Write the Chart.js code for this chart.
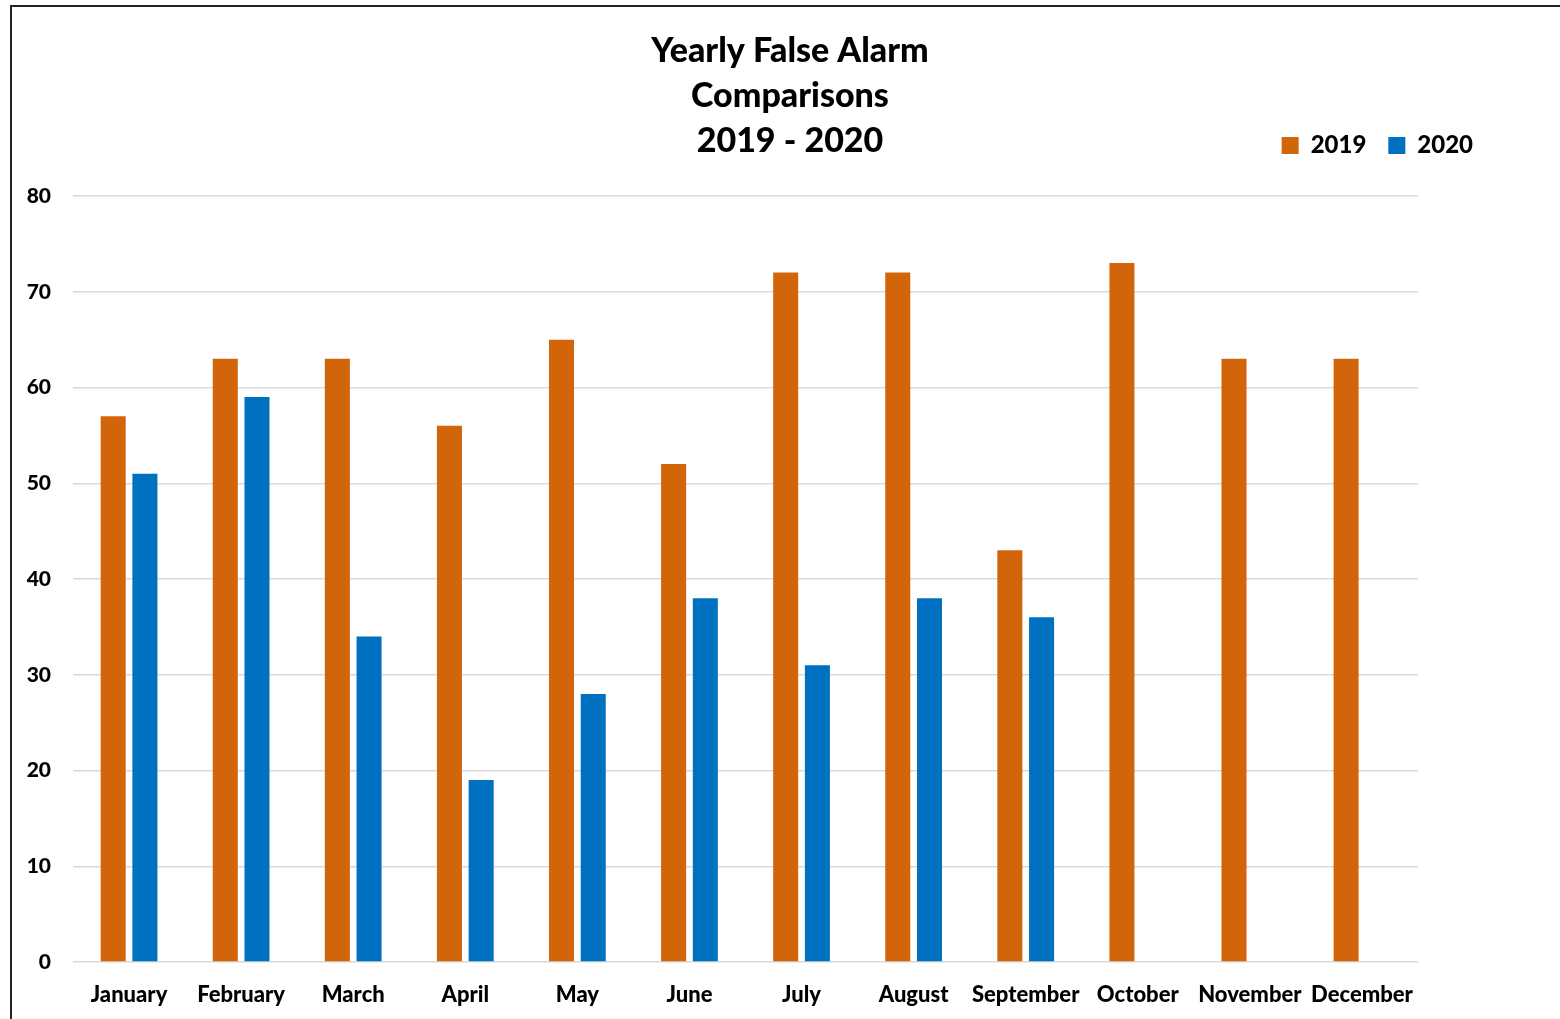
<!DOCTYPE html>
<html>
<head>
<meta charset="utf-8">
<script src="https://cdn.jsdelivr.net/npm/chart.js@4/dist/chart.umd.min.js"></script>
<style>
  html, body { margin: 0; padding: 0; background: #fff; overflow: hidden; width: 1560px; height: 1019px; }
  #frame { position: absolute; left: 10px; top: 5px; width: 1600px; height: 1100px; border: 2px solid #222; box-sizing: border-box; }
  #c { position: absolute; left: 10px; top: 0px; }
</style>
</head>
<body>
<div id="frame"></div>
<canvas id="c" width="1560" height="1019"></canvas>
<script>
const months = ['January','February','March','April','May','June','July','August','September','October','November','December'];
const values2019 = [57, 63, 63, 56, 65, 52, 72, 72, 43, 73, 63, 63];
const values2020 = [51, 59, 34, 19, 28, 38, 31, 38, 36, null, null, null];
const seriesNames = ['2019', '2020'];
const titleLines = ['Yearly False Alarm', 'Comparisons', '2019 - 2020'];
const yTicks = [0, 10, 20, 30, 40, 50, 60, 70, 80];

const ORANGE = '#D2640A';
const BLUE = '#0070C0';
const FONT = 'Lato';
const W = 900;

const legendShift = {
  id: 'legendShift',
  afterLayout(chart) {
    const lg = chart.legend;
    if (!lg) return;
    const dx = -75, dy = -28.5;
    lg.left += dx; lg.right += dx;
    lg.top += dy; lg.bottom += dy;
  }
};

new Chart(document.getElementById('c'), {
  type: 'bar',
  data: {
    labels: months,
    datasets: [
      { label: seriesNames[0], data: values2019, backgroundColor: ORANGE, borderWidth: 0,
        categoryPercentage: 0.566, barPercentage: 0.789 },
      { label: seriesNames[1], data: values2020, backgroundColor: BLUE, borderWidth: 0,
        categoryPercentage: 0.566, barPercentage: 0.789 }
    ]
  },
  options: {
    responsive: false,
    animation: false,
    devicePixelRatio: 1,
    layout: { padding: 0 },
    plugins: {
      title: {
        display: true,
        text: titleLines,
        color: '#000',
        font: { family: FONT, size: 34, weight: W, lineHeight: '45px' },
        padding: { top: 29, bottom: -24 }
      },
      legend: {
        display: true,
        position: 'top',
        align: 'end',
        labels: {
          color: '#000',
          font: { family: FONT, size: 24, weight: W },
          boxWidth: 17,
          boxHeight: 17,
          padding: 22
        }
      },
      tooltip: { enabled: false }
    },
    scales: {
      x: {
        afterFit(s) { s.height = 57; },
        grid: { display: false },
        border: { display: false },
        ticks: {
          color: '#000',
          font: { family: FONT, size: 22, weight: W },
          padding: 12,
          maxRotation: 0,
          autoSkip: false
        }
      },
      y: {
        min: 0,
        max: 80,
        afterFit(s) { s.width = 63; },
        afterBuildTicks(s) { s.ticks = yTicks.map(v => ({ value: v })); },
        grid: { color: '#d9d9d9', lineWidth: 1.5, drawTicks: false },
        border: { display: false },
        ticks: {
          color: '#000',
          font: { family: FONT, size: 21, weight: W },
          padding: 22
        }
      },
      yR: {
        type: 'linear',
        position: 'right',
        display: true,
        afterFit(s) { s.width = 152; },
        grid: { display: false },
        border: { display: false },
        ticks: { display: false }
      }
    }
  },
  plugins: [legendShift]
});
</script>
</body>
</html>
